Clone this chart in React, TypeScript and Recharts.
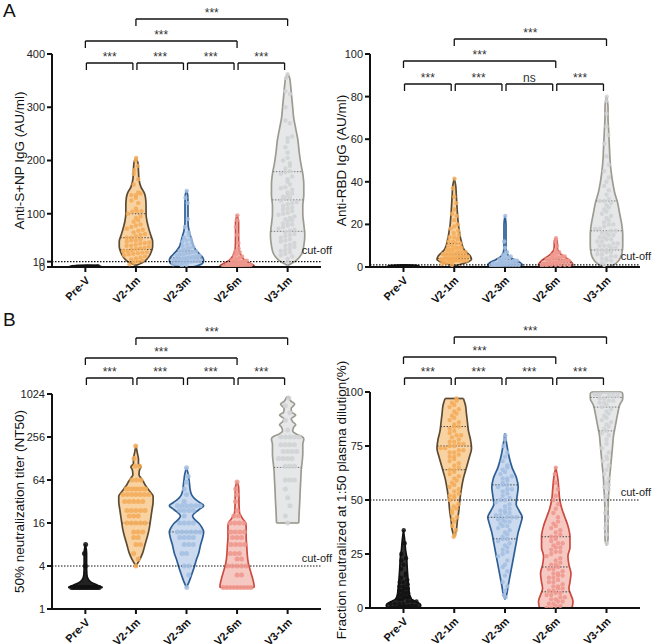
import React from 'react';
import { ComposedChart, XAxis, YAxis, Area, Line, Scatter, ReferenceLine } from 'recharts';

const FONT = '"Liberation Sans", Arial, Helvetica, sans-serif';
const groups = ['Pre-V', 'V2-1m', 'V2-3m', 'V2-6m', 'V3-1m'];

const fills = ['#1a1a1a', '#f9d2a2', '#cbdaef', '#f6c8c2', '#e6e7e9'];
const outlines = ['#111111', '#5d4b31', '#2d5f96', '#cc4a3f', '#9d9b90'];
const dotColors = ['#111111', '#f3ab58', '#a3bee2', '#ef968d', '#d0d1d4'];

// comparisons: [groupA, groupB, bracket row]
const comparisons = [
  [1, 4, 0],
  [0, 3, 1],
  [0, 1, 2],
  [1, 2, 2],
  [2, 3, 2],
  [3, 4, 2],
];

// ---------------- Panel A (left): Anti-S+NP IgG ----------------
const alTicks = [0, 10, 100, 200, 300, 400];
const alSig = ['***', '***', '***', '***', '***', '***'];
const alViolins = [
  [[0, 16], [1.5, 15], [3, 0]],
  [[3, 0], [6, 4], [10, 8], [15, 11], [20, 13], [28, 15], [38, 16.5], [48, 16.5], [58, 15], [70, 13], [85, 11], [100, 10], [115, 10], [130, 9.5], [140, 8], [150, 5], [165, 3], [180, 2.5], [195, 2], [205, 0]],
  [[0, 6], [3, 12], [7, 16], [12, 17], [18, 16], [24, 13], [30, 10], [38, 7], [48, 5.5], [58, 4], [68, 2.5], [85, 1.5], [110, 1.5], [135, 1.2], [143, 0]],
  [[0, 16], [2, 17], [5, 15], [9, 11], [14, 7], [20, 4.5], [26, 3], [35, 1.8], [60, 1.5], [85, 1.5], [97, 0]],
  [[3, 0], [8, 5], [15, 10], [25, 14], [40, 16], [60, 17], [80, 16], [100, 15], [115, 15], [135, 16], [155, 16], [175, 15], [195, 13], [215, 11.5], [240, 10], [260, 8], [280, 6], [300, 5], [320, 4], [340, 3], [355, 2], [362, 0]],
];
const alQuartiles = [[], [33, 55, 100], [10, 17, 30], [2, 4, 9], [67, 126, 179]];
const alDots = [
  [0.3, 0.5, 0.8, 1, 1.2, 0.4, 0.6, 0.9, 1.5, 0.7, 0.2, 1.1, 0.5, 0.8],
  [205, 200, 190, 182, 175, 165, 155, 140, 138, 135, 135, 130, 125, 120, 110, 105, 105, 104, 100, 95, 92, 88, 85, 80, 78, 75, 72, 70, 68, 65, 62, 60, 58, 55, 55, 52, 50, 50, 48, 46, 45, 44, 42, 40, 40, 38, 36, 35, 34, 32, 30, 30, 28, 27, 26, 25, 24, 22, 20, 18, 16, 14, 12, 10, 8, 5],
  [143, 130, 120, 90, 75, 65, 60, 55, 52, 50, 48, 45, 42, 40, 38, 36, 34, 32, 30, 29, 28, 27, 26, 25, 24, 23, 22, 21, 20, 20, 19, 18, 18, 17, 16, 16, 15, 15, 14, 14, 13, 12, 12, 11, 10, 10, 9, 8, 7, 6, 5, 4, 3],
  [97, 88, 75, 60, 45, 35, 30, 28, 25, 22, 20, 18, 16, 15, 14, 13, 12, 11, 10, 10, 9, 9, 8, 8, 7, 7, 6, 6, 5, 5, 5, 4, 4, 4, 3, 3, 3, 2, 2, 2, 1, 1, 1, 0.5],
  [362, 355, 330, 325, 300, 275, 270, 245, 242, 235, 225, 215, 205, 200, 195, 190, 185, 180, 178, 175, 170, 165, 160, 155, 150, 148, 145, 140, 138, 135, 132, 130, 128, 125, 122, 120, 118, 115, 112, 110, 108, 105, 102, 100, 98, 95, 92, 90, 88, 85, 82, 80, 78, 75, 72, 70, 68, 65, 62, 60, 58, 55, 52, 50, 48, 45, 42, 40, 38, 35, 32, 30, 28, 25, 22, 20, 15, 10],
];

// ---------------- Panel A (right): Anti-RBD IgG ----------------
const arTicks = [0, 20, 40, 60, 80, 100];
const arSig = ['***', '***', '***', '***', 'ns', '***'];
const arViolins = [
  [[0, 16], [0.5, 15], [1, 0]],
  [[0.5, 0], [1.5, 8], [2.5, 14], [3.5, 17], [5, 16], [6.5, 13], [8, 10], [10, 8], [12, 7], [14, 6], [17, 5], [20, 4], [23, 3.5], [26, 3], [30, 2.5], [34, 2], [38, 1.5], [41.5, 0]],
  [[0, 15], [1, 17], [2, 15], [3, 11], [4, 7], [5, 4], [6, 2.5], [7, 1.5], [10, 1], [15, 1], [20, 1], [24, 0]],
  [[0, 15], [1, 17], [2, 16], [3, 14], [4, 11], [5, 8], [6, 5], [7, 3.5], [8, 2], [10, 1.5], [12, 1.5], [13.5, 0]],
  [[0, 2], [1, 7], [3, 12], [6, 15], [10, 16], [15, 16], [20, 15], [25, 13], [30, 11], [35, 8], [40, 6], [45, 4.5], [50, 3.5], [55, 3], [60, 2.5], [65, 2], [70, 1.5], [75, 1.5], [80, 0]],
];
const arQuartiles = [[], [4, 6, 11], [1, 2, 3.5], [1, 2, 3.5], [8, 17, 31]];
const arDots = [
  [0.1, 0.2, 0.1, 0.3, 0.2, 0.1, 0.2, 0.3, 0.1, 0.2, 0.1, 0.2],
  [41.5, 37, 33, 30, 27, 25, 24, 22, 20, 19, 18, 17, 16, 15, 14, 14, 13, 12, 12, 11, 11, 10, 10, 9, 9, 9, 8, 8, 8, 7, 7, 7, 7, 6, 6, 6, 6, 6, 5, 5, 5, 5, 5, 5, 4, 4, 4, 4, 4, 4, 4, 3.5, 3.5, 3, 3, 3, 3, 3, 2.5, 2.5, 2, 2, 1.5, 1],
  [24, 12, 9, 7, 6, 5.5, 5, 4.5, 4, 4, 3.5, 3.5, 3, 3, 3, 2.5, 2.5, 2.5, 2, 2, 2, 2, 2, 1.5, 1.5, 1.5, 1.5, 1.5, 1, 1, 1, 1, 1, 1, 0.5, 0.5, 0.5, 0.5],
  [13.5, 12, 10, 8, 7, 6.5, 6, 5.5, 5, 5, 4.5, 4.5, 4, 4, 4, 3.5, 3.5, 3, 3, 3, 3, 2.5, 2.5, 2.5, 2, 2, 2, 2, 2, 1.5, 1.5, 1.5, 1.5, 1, 1, 1, 1, 1, 0.5, 0.5],
  [80, 78, 72, 66, 62, 58, 52, 48, 45, 42, 40, 38, 36, 34, 32, 31, 31, 30, 29, 28, 27, 26, 25, 24, 23, 22, 21, 20, 20, 19, 18, 18, 17, 17, 16, 16, 15, 15, 14, 14, 13, 13, 12, 12, 11, 11, 10, 10, 10, 9, 9, 8, 8, 8, 7, 7, 6, 6, 5, 5, 4, 4, 3, 3, 2, 1],
];

// ---------------- Panel B (left): NT50 (log2) ----------------
const blTicks = [1, 4, 16, 64, 256, 1024];
const blSig = ['***', '***', '***', '***', '***', '***'];
const blViolins = [
  [[2, 17], [2.15, 12], [2.35, 6], [2.6, 3], [3, 1.5], [4, 1.2], [6, 1.2], [8, 0]],
  [[4, 0], [5, 4], [6, 6.5], [8, 9], [10, 11], [13, 13], [16, 14], [20, 15], [25, 16], [32, 17], [38, 17], [42, 15], [48, 12], [55, 9], [62, 7], [68, 5], [76, 3], [88, 3.5], [98, 5], [108, 2.5], [125, 2.5], [150, 1.5], [192, 0]],
  [[2, 0], [2.5, 3], [3, 5], [4, 8], [5, 10], [6, 12], [8, 14], [10, 16], [12, 17], [14, 15], [16, 12], [18, 8], [20, 6], [22, 8], [25, 13], [28, 17], [31, 13], [35, 8], [40, 5], [48, 3.5], [56, 3], [64, 2.5], [76, 1.8], [95, 0]],
  [[2, 17], [2.3, 16.5], [2.8, 15], [3.5, 13], [4.5, 11], [6, 10], [8, 9.5], [10, 9], [12, 9], [14, 9], [16, 8.5], [18, 6], [20, 4], [22, 2.5], [28, 2], [40, 1.8], [52, 1.5], [60, 0]],
  [[16, 11], [24, 11.5], [32, 12], [48, 12.5], [64, 13], [90, 13.5], [120, 14.5], [150, 15], [200, 15], [240, 16], [260, 14], [280, 9], [310, 5], [350, 6], [380, 8], [420, 5], [460, 3.5], [520, 8], [570, 4], [640, 3.5], [740, 7], [820, 3], [900, 1.5], [950, 0]],
];
const blQuartiles = [[], [16], [12], [], [96]];
const blDots = [
  [2, 2, 2, 2, 2, 2, 2, 2, 2, 2, 2, 2, 2, 2, 2, 2, 2, 2, 4, 6, 8],
  [192, 128, 100, 100, 64, 64, 64, 48, 48, 48, 48, 48, 48, 48, 40, 40, 40, 40, 40, 40, 40, 32, 32, 32, 32, 32, 24, 24, 24, 24, 24, 20, 20, 20, 16, 16, 16, 16, 16, 12, 12, 12, 10, 10, 8, 8, 6, 5, 4],
  [95, 72, 60, 48, 40, 32, 28, 28, 28, 28, 28, 28, 24, 24, 24, 24, 20, 16, 16, 16, 16, 12, 12, 12, 12, 12, 12, 10, 10, 10, 10, 8, 8, 8, 6, 6, 4, 4, 3, 2],
  [60, 48, 40, 32, 24, 20, 20, 16, 16, 16, 16, 12, 12, 12, 12, 10, 10, 10, 8, 8, 8, 8, 6, 6, 6, 5, 5, 4, 4, 4, 4, 4, 3, 3, 2, 2, 2, 2, 2, 2, 2, 2, 2],
  [900, 700, 560, 440, 320, 256, 256, 256, 256, 256, 200, 200, 200, 200, 160, 160, 160, 160, 128, 128, 128, 128, 100, 100, 100, 64, 64, 64, 48, 36, 28, 20, 16],
];

// ---------------- Panel B (right): fraction neutralized ----------------
const brTicks = [0, 25, 50, 75, 100];
const brSig = ['***', '***', '***', '***', '***', '***'];
const brViolins = [
  [[0, 15], [1, 17], [2, 16], [3, 12], [4, 8], [6, 6], [8, 5.5], [10, 5], [13, 4.5], [16, 4], [20, 3.5], [24, 3], [27, 2], [30, 1.5], [36, 0]],
  [[33, 0], [36, 2], [40, 3], [45, 4.5], [50, 5.5], [55, 7], [60, 9], [65, 12], [70, 15], [74, 17], [78, 16], [82, 14], [86, 13], [90, 12], [94, 11], [97, 9]],
  [[4, 0], [6, 1.5], [10, 3], [15, 5], [20, 7], [25, 9], [30, 11], [35, 13], [40, 16], [42, 17], [45, 14], [48, 11], [52, 12], [56, 13], [60, 11.5], [65, 7], [70, 4], [75, 2], [81, 0]],
  [[0, 16], [3, 17], [6, 15], [9, 13], [12, 14], [16, 15], [20, 13], [24, 12], [28, 14], [33, 14], [38, 12], [42, 9], [46, 6], [50, 4], [55, 3], [60, 2], [65, 0]],
  [[29, 0], [32, 1.5], [40, 1.5], [50, 1.8], [55, 2.5], [60, 3], [65, 4], [70, 5], [75, 6], [80, 7], [85, 9], [90, 11], [94, 13], [97, 16], [99, 16], [100, 15]],
];
const brQuartiles = [[], [64, 75, 84], [32, 42, 57], [7.5, 19, 33], [82, 93, 97.5]];
const brDots = [
  [36, 30, 25, 23, 22, 20, 18, 16, 15, 14, 13, 12, 12, 11, 10, 10, 9, 9, 8, 8, 7, 7, 6, 6, 5, 5, 5, 4, 4, 4, 3, 3, 3, 2, 2, 2, 2, 1, 1, 1, 1, 0.5, 0.5, 0.5, 0, 0, 0],
  [97, 96, 95, 94, 93, 92, 91, 90, 89, 88, 87, 86, 85, 84, 84, 83, 82, 81, 80, 80, 79, 78, 77, 77, 76, 76, 75, 75, 74, 74, 73, 73, 72, 72, 71, 70, 70, 69, 68, 67, 66, 65, 64, 64, 63, 62, 61, 60, 59, 58, 57, 56, 55, 54, 53, 52, 52, 51, 50, 48, 47, 46, 45, 44, 42, 41, 40, 38, 36, 34, 33],
  [80, 78, 75, 72, 70, 68, 66, 65, 64, 63, 62, 61, 60, 60, 59, 58, 57, 57, 56, 55, 55, 54, 53, 52, 51, 50, 50, 49, 48, 47, 46, 45, 45, 44, 44, 43, 43, 42, 42, 42, 41, 41, 40, 40, 39, 38, 38, 37, 36, 35, 34, 33, 32, 32, 31, 30, 29, 28, 27, 26, 25, 24, 22, 20, 19, 17, 15, 12, 10, 8, 6, 5],
  [65, 62, 58, 55, 52, 50, 48, 46, 44, 42, 40, 39, 38, 37, 36, 35, 34, 33, 33, 32, 31, 30, 30, 29, 28, 28, 27, 26, 26, 25, 24, 23, 22, 21, 20, 20, 19, 18, 18, 17, 16, 16, 15, 15, 14, 14, 13, 12, 12, 11, 10, 10, 9, 9, 8, 8, 7, 7, 6, 6, 5, 5, 4, 4, 3, 3, 2, 2, 1, 1, 0, 0],
  [100, 100, 100, 100, 100, 100, 100, 99, 99, 99, 98, 98, 98, 97, 97, 96, 96, 95, 95, 94, 93, 92, 91, 90, 89, 88, 87, 86, 85, 84, 83, 82, 81, 80, 78, 76, 74, 72, 70, 69, 68, 66, 64, 62, 60, 58, 57, 56, 55, 52, 50, 46, 44, 42, 39, 37, 34, 30],
];

// ---------------- layout helpers ----------------
const DENS_UNIT = 0.02; // x-units per density point
const X_DOMAIN = [-0.66, 4.66];

function halfWidth(profile, v, log) {
  const f = (x) => (log ? Math.log(x) : x);
  if (v <= profile[0][0]) return profile[0][1];
  for (let k = 1; k < profile.length; k++) {
    if (v <= profile[k][0]) {
      const [v0, d0] = profile[k - 1];
      const [v1, d1] = profile[k];
      const t = (f(v) - f(v0)) / (f(v1) - f(v0));
      return d0 + t * (d1 - d0);
    }
  }
  return profile[profile.length - 1][1];
}

function layoutDots(values, profile, gi, toT, H, log) {
  const sorted = [...values].sort((a, b) => a - b);
  const bins = new Map();
  sorted.forEach((v) => {
    const b = Math.round((toT(v) * H) / 4.5);
    if (!bins.has(b)) bins.set(b, []);
    bins.get(b).push(v);
  });
  const out = [];
  bins.forEach((vs, b) => {
    const n = vs.length;
    const vMid = vs[Math.floor(n / 2)];
    const half = Math.max(0.8 * halfWidth(profile, vMid, log) * DENS_UNIT, 0.005);
    let s = 0.09;
    if (n > 1 && (n - 1) * s > 2 * half) s = (2 * half) / (n - 1);
    const slack = Math.max(half - ((n - 1) * s) / 2, 0);
    const phase = (((b % 3) + 3) % 3 - 1) * Math.min(s / 2, slack);
    vs.forEach((v, k) => out.push({ x: gi + (k - (n - 1) / 2) * s + phase, v }));
  });
  return out;
}

const axisStyle = { stroke: '#111', strokeWidth: 2 };

const CatTick = (props) => {
  const { x, y, payload } = props;
  const ax = x + 5;
  const ay = y + 7;
  return (
    <text x={ax} y={ay} transform={`rotate(-45, ${ax}, ${ay})`} textAnchor="end" fontSize={11} fontWeight="bold" fill="#111" fontFamily={FONT}>
      {groups[payload.value]}
    </text>
  );
};

function Panel({ cfg }) {
  const { width, height, marginTop, marginRight, yWidth, xHeight, log, domain, ticks, title, titleX, profiles, quartiles, dots, cutoff, cutoffDy, sig, rows, dotR, preVFill } = cfg;
  const H = height - marginTop - xHeight;
  const toT = (v) => (log ? Math.log(v / domain[0]) / Math.log(domain[1] / domain[0]) : (v - domain[0]) / (domain[1] - domain[0]));
  const yAtOffset = (off) => (log ? domain[1] * Math.pow(domain[0] / domain[1], off / H) : domain[1] - (off / H) * (domain[1] - domain[0]));
  const gFill = (gi) => (gi === 0 ? preVFill : fills[gi]);

  const violinData = profiles.map((p, gi) =>
    p.map(([v, d]) => ({ v, lo: gi - d * DENS_UNIT, hi: gi + d * DENS_UNIT, r: [gi - d * DENS_UNIT, gi + d * DENS_UNIT] }))
  );

  const areas = violinData.map((d, gi) => (
    <Area key={`area${gi}`} data={d} dataKey="r" type="monotone" fill={gFill(gi)} fillOpacity={1} stroke="none" isAnimationActive={false} dot={false} activeDot={false} />
  ));

  const scatters = dots.map((vals, gi) => {
    const pts = layoutDots(vals, profiles[gi], gi, toT, H, log);
    return (
      <Scatter
        key={`dots${gi}`}
        data={pts}
        isAnimationActive={false}
        shape={(p) => <circle cx={p.cx} cy={p.cy} r={dotR} fill={dotColors[gi]} fillOpacity={0.85} />}
      />
    );
  });

  const outlinesEls = violinData.flatMap((d, gi) => [
    <Line key={`lo${gi}`} data={d} dataKey="lo" type="monotone" stroke={outlines[gi]} strokeWidth={1.7} dot={false} activeDot={false} isAnimationActive={false} />,
    <Line key={`hi${gi}`} data={d} dataKey="hi" type="monotone" stroke={outlines[gi]} strokeWidth={1.7} dot={false} activeDot={false} isAnimationActive={false} />,
  ]);

  const flatEnds = profiles.flatMap((p, gi) => {
    const ends = [p[0], p[p.length - 1]].filter(([, d]) => d > 0);
    return ends.map(([v, d], k) => (
      <ReferenceLine key={`end${gi}-${k}`} segment={[{ x: gi - d * DENS_UNIT, y: v }, { x: gi + d * DENS_UNIT, y: v }]} stroke={outlines[gi]} strokeWidth={1.7} ifOverflow="visible" />
    ));
  });

  const quartileEls = quartiles.flatMap((qs, gi) =>
    qs.map((q, k) => {
      const w = halfWidth(profiles[gi], q, log) * DENS_UNIT;
      return (
        <ReferenceLine key={`q${gi}-${k}`} segment={[{ x: gi - w, y: q }, { x: gi + w, y: q }]} stroke={gi === 4 ? '#777' : '#444'} strokeWidth={1} strokeDasharray="1.5 1.5" ifOverflow="visible" />
      );
    })
  );

  const bracketEls = comparisons.flatMap(([a, b, row], k) => {
    const off = rows[row];
    const y1 = yAtOffset(off);
    const y2 = yAtOffset(off + 7);
    const xa = a + (row === 2 ? 0.02 : 0);
    const xb = b - (row === 2 ? 0.06 : 0);
    const label = (lp) => {
      const vb = lp.viewBox || {};
      return (
        <text x={vb.x + vb.width / 2} y={vb.y - 2.5} textAnchor="middle" fontSize={12} fill="#333" fontFamily={FONT}>
          {sig[k]}
        </text>
      );
    };
    return [
      <ReferenceLine key={`bh${k}`} segment={[{ x: xa, y: y1 }, { x: xb, y: y1 }]} ifOverflow="visible" stroke="#111" strokeWidth={1.3} label={label} />,
      <ReferenceLine key={`bl${k}`} segment={[{ x: xa, y: y1 }, { x: xa, y: y2 }]} ifOverflow="visible" stroke="#111" strokeWidth={1.3} />,
      <ReferenceLine key={`br${k}`} segment={[{ x: xb, y: y1 }, { x: xb, y: y2 }]} ifOverflow="visible" stroke="#111" strokeWidth={1.3} />,
    ];
  });

  const cutoffLabel = (lp) => {
    const vb = lp.viewBox || {};
    return (
      <text x={vb.x + vb.width + 11} y={vb.y - cutoffDy} textAnchor="end" fontSize={11} fill="#222" fontFamily={FONT}>
        cut-off
      </text>
    );
  };

  const titleLabel = () => (
    <text x={titleX} y={marginTop + H / 2} transform={`rotate(-90, ${titleX}, ${marginTop + H / 2})`} textAnchor="middle" fontSize={13.5} fill="#111" fontFamily={FONT}>
      {title}
    </text>
  );

  return (
    <ComposedChart layout="vertical" width={width} height={height} margin={{ top: marginTop, right: marginRight, bottom: 0, left: 0 }}>
      <XAxis type="number" dataKey="x" domain={X_DOMAIN} ticks={[0, 1, 2, 3, 4]} interval={0} allowDataOverflow height={xHeight} tick={<CatTick />} tickSize={5} axisLine={axisStyle} tickLine={axisStyle} />
      <YAxis
        type="number"
        dataKey="v"
        reversed
        domain={domain}
        scale={log ? 'log' : 'linear'}
        ticks={ticks}
        interval={0}
        allowDataOverflow
        width={yWidth}
        tick={{ fontSize: 11, fill: '#222', fontFamily: FONT }}
        tickSize={5}
        axisLine={axisStyle}
        tickLine={axisStyle}
        label={titleLabel}
      />
      {areas}
      {scatters}
      {outlinesEls}
      {flatEnds}
      {quartileEls}
      <ReferenceLine y={cutoff} stroke="#111" strokeWidth={1.2} strokeDasharray="1.5 1.5" label={cutoffLabel} />
      {bracketEls}
    </ComposedChart>
  );
}

const panels = [
  { key: 'al', left: 0, top: 0, width: 340, height: 320, marginTop: 54, marginRight: 19, yWidth: 52, xHeight: 53, log: false, domain: [0, 400], ticks: alTicks, title: 'Anti-S+NP IgG (AU/ml)', titleX: 24, profiles: alViolins, quartiles: alQuartiles, dots: alDots, cutoff: 10, cutoffDy: 8, sig: alSig, rows: [-35, -13, 9], dotR: 2.2, preVFill: '#111' },
  { key: 'ar', left: 330, top: 0, width: 322, height: 320, marginTop: 54, marginRight: 12, yWidth: 40, xHeight: 53, log: false, domain: [0, 100], ticks: arTicks, title: 'Anti-RBD IgG (AU/ml)', titleX: 16, profiles: arViolins, quartiles: arQuartiles, dots: arDots, cutoff: 1, cutoffDy: 5, sig: arSig, rows: [-15, 7, 30], dotR: 2.2, preVFill: '#111' },
  { key: 'bl', left: 0, top: 320, width: 340, height: 324, marginTop: 74, marginRight: 19, yWidth: 52, xHeight: 35, log: true, domain: [1, 1024], ticks: blTicks, title: '50% neutralization titer (NT50)', titleX: 24, profiles: blViolins, quartiles: blQuartiles, dots: blDots, cutoff: 4, cutoffDy: 4, sig: blSig, rows: [-56, -36, -16], dotR: 2.5, preVFill: '#222' },
  { key: 'br', left: 330, top: 320, width: 322, height: 324, marginTop: 72, marginRight: 12, yWidth: 40, xHeight: 36, log: false, domain: [0, 100], ticks: brTicks, title: 'Fraction neutralized at 1:50 plasma dilution(%)', titleX: 16, profiles: brViolins, quartiles: brQuartiles, dots: brDots, cutoff: 50, cutoffDy: 4, sig: brSig, rows: [-55, -35, -14], dotR: 2.2, preVFill: '#333' },
];

export default function App() {
  return (
    <div style={{ position: 'absolute', left: 0, top: 0, width: 652, height: 644, background: '#fff', overflow: 'hidden', fontFamily: FONT }}>
      <svg width={652} height={644} style={{ position: 'absolute', left: 0, top: 0 }}>
        <text x={3} y={17} fontSize={19} fill="#111" fontFamily={FONT}>A</text>
        <text x={3} y={326} fontSize={19} fill="#111" fontFamily={FONT}>B</text>
      </svg>
      {panels.map((p) => (
        <div key={p.key} style={{ position: 'absolute', left: p.left, top: p.top }}>
          <Panel cfg={p} />
        </div>
      ))}
    </div>
  );
}
